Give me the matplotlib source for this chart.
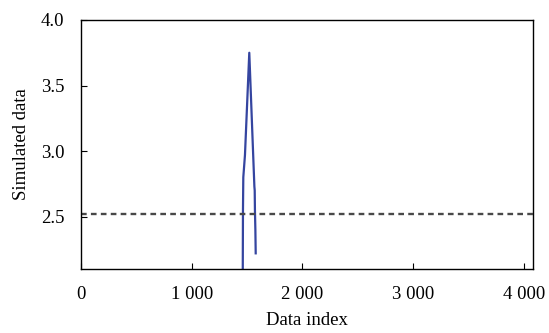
import matplotlib
matplotlib.use("Agg")
import matplotlib.pyplot as plt
from matplotlib.ticker import FuncFormatter

plt.rcParams["font.family"] = ["Liberation Serif", "DejaVu Serif"]

# spike in the simulated series
idx = [1461, 1463, 1466, 1481, 1520, 1566, 1569, 1571, 1575, 1578]
vals = [2.05, 2.55, 2.80, 2.97, 3.75, 2.73, 2.70, 2.55, 2.40, 2.22]

threshold = 2.52
x_ticks = [0, 1000, 2000, 3000, 4000]
y_ticks = [2.5, 3.0, 3.5, 4.0]

fig = plt.figure(figsize=(5.49, 3.33), dpi=100)
ax = fig.add_axes([0.1475, 0.192, 0.8235, 0.748])

ax.plot(idx, vals, color="#3545a0", linewidth=1.6)
ax.axhline(threshold, color="#484848", linestyle=(0, (2.4, 1.8)), linewidth=1.7)

ax.set_xlim(0, 4083)
ax.set_ylim(2.1, 4.0)
ax.set_xticks(x_ticks)
ax.set_yticks(y_ticks)
ax.xaxis.set_major_formatter(FuncFormatter(lambda v, p: f"{int(v):,}".replace(",", " ")))
ax.yaxis.set_major_formatter(FuncFormatter(lambda v, p: f"{v:.1f}"))
ax.tick_params(direction="in", length=4, labelsize=13.5, pad=12)
ax.tick_params(axis="x", pad=12)
ax.set_xlabel("Data index", fontsize=13.5, labelpad=7)
ax.set_ylabel("Simulated data", fontsize=13.5, labelpad=8)
for s in ax.spines.values():
    s.set_linewidth(1.0)

fig.savefig("out.png", dpi=100)
